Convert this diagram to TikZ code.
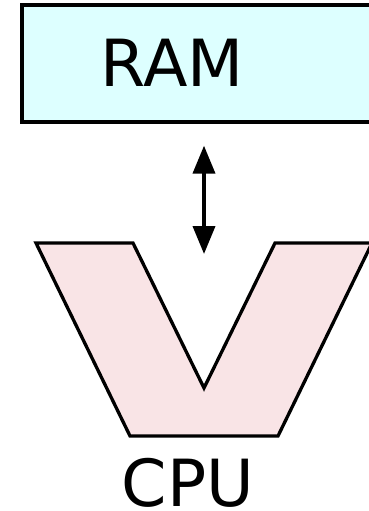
\documentclass[tikz,border=0pt]{standalone}
\usepackage{fontspec}
\setmainfont{DejaVu Sans}
\usetikzlibrary{arrows.meta,positioning}
\definecolor{ramfill}{RGB}{221,255,255}
\definecolor{cpufill}{RGB}{249,228,230}

\begin{document}
\begin{tikzpicture}[
    x=1pt, y=-1pt,
    line width=3.3pt,
    >={Triangle[length=28pt,width=22pt]},
    box/.style={rectangle, draw, fill=ramfill, minimum width=364pt, minimum height=117pt, inner sep=0pt},
    word/.style={inner sep=0pt, font=\fontsize{65}{65}\selectfont}
]
  \useasboundingbox (0,0) rectangle (368,511);

  % nodes
  \node[box] (ram) at (204,63.5) {};
  \node[word] (ramtext) at (172,62.5) {RAM};
  \coordinate (cpu) at (204,243);

  % cpu shape
  \draw[fill=cpufill] (36,243) -- (133,243) -- (204,388) -- (275,243) -- (372,243)
    -- (278,436) -- (130,436) -- cycle;
  \node[word] (cputext) at (188,483) {CPU};

  % edges
  \draw[<->, line width=3.8pt, shorten <=22pt, shorten >=-11pt] (ram.south) -- (cpu);
\end{tikzpicture}
\end{document}
